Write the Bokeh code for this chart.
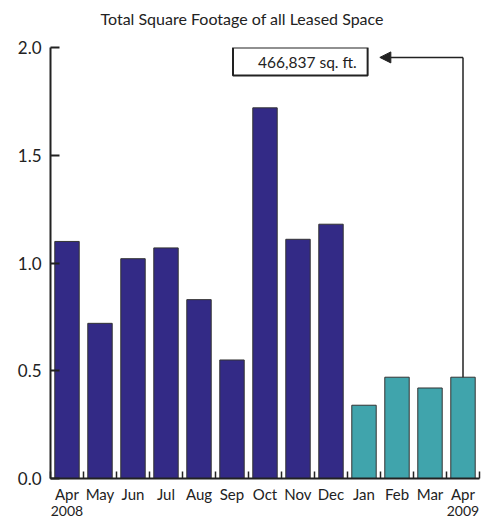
from bokeh.plotting import figure
from bokeh.models import (Range1d, FixedTicker, NumeralTickFormatter, Title,
                          BoxAnnotation, Label, Arrow, NormalHead, LinearAxis)
from bokeh.embed import file_html
from bokeh.resources import INLINE

# ---- data ----
months = ["Apr", "May", "Jun", "Jul", "Aug", "Sep", "Oct", "Nov", "Dec",
          "Jan", "Feb", "Mar", "Apr"]
years = ["2008", "", "", "", "", "", "", "", "", "", "", "", "2009"]
values = [1.10, 0.72, 1.02, 1.07, 0.83, 0.55, 1.72, 1.11, 1.18,
          0.34, 0.47, 0.42, 0.47]
period = ["2008"] * 9 + ["2009"] * 4
y_ticks = [0.0, 0.5, 1.0, 1.5, 2.0]
title_text = "Total Square Footage of all Leased Space"
callout_text = "466,837 sq. ft."

FONT = "Lato"
INK = "#222222"
colors = {"2008": "#332a86", "2009": "#40a4ac"}

n = len(months)
centers = [i + 0.5 for i in range(n)]
bar_colors = [colors[p_] for p_ in period]

p = figure(width=488, height=520, output_backend="svg", toolbar_location=None,
           x_range=Range1d(0, n), y_range=Range1d(0, 2.0),
           min_border_left=50, min_border_right=9, min_border_top=47,
           min_border_bottom=42)
p.title = Title(text=title_text, align="left",
                text_font=FONT, text_font_size="16px", text_font_style="normal",
                text_color=INK, offset=50, standoff=0)
# spacer between title and frame
p.add_layout(Title(text=" ", text_font_size="14px", standoff=2), "above")

p.vbar(x=centers, top=values, width=0.74, fill_color=bar_colors,
       line_color="#333333", line_width=1)

# axes
p.grid.visible = False
p.outline_line_color = None

xa = p.xaxis[0]
xa.ticker = FixedTicker(ticks=centers, minor_ticks=list(range(n + 1)))
xa.major_label_overrides = {c: m for c, m in zip(centers, months)}
xa.major_tick_in = 0
xa.major_tick_out = 0
xa.minor_tick_in = 7
xa.minor_tick_out = 0
xa.minor_tick_line_color = INK
xa.minor_tick_line_width = 1.5
xa.axis_line_color = INK
xa.axis_line_width = 2
xa.major_label_text_font = FONT
xa.major_label_text_font_size = "15px"
xa.major_label_text_color = INK
xa.major_label_standoff = 6

# second row: years under first and last month
year_ticks = [c for c, y in zip(centers, years) if y]
ya2 = LinearAxis(ticker=FixedTicker(ticks=year_ticks, minor_ticks=[]),
                 major_label_overrides={c: y for c, y in zip(centers, years) if y},
                 axis_line_color=None, major_tick_line_color=None,
                 minor_tick_line_color=None, major_tick_in=0, major_tick_out=0,
                 major_label_standoff=0, major_label_text_font=FONT,
                 major_label_text_font_size="14px", major_label_text_color=INK)
p.add_layout(ya2, "below")

ya = p.yaxis[0]
ya.ticker = FixedTicker(ticks=y_ticks, minor_ticks=[])
ya.formatter = NumeralTickFormatter(format="0.0")
ya.major_tick_in = 9
ya.major_tick_out = 0
ya.major_tick_line_color = INK
ya.major_tick_line_width = 2
ya.minor_tick_line_color = None
ya.axis_line_color = INK
ya.axis_line_width = 2
ya.major_label_text_font = FONT
ya.major_label_text_font_size = "17px"
ya.major_label_text_color = INK
ya.major_label_standoff = 9

# callout
y_line = 1.954
p.line([centers[-1], centers[-1]], [values[-1], y_line], line_color=INK,
       line_width=1.5)
p.add_layout(Arrow(end=NormalHead(size=11, fill_color=INK, line_color=INK),
                   x_start=centers[-1], y_start=y_line, x_end=9.98, y_end=y_line,
                   line_color=INK, line_width=1.5))
p.add_layout(BoxAnnotation(left=5.53, right=9.61, bottom=1.87, top=2.0,
                           fill_color="white", fill_alpha=1.0,
                           line_color=INK, line_width=2, line_alpha=1.0))
p.add_layout(Label(x=9.28, y=1.935, text=callout_text, text_align="right",
                   text_baseline="middle", text_font=FONT,
                   text_font_size="15.5px", text_color=INK))

open("out.html", "w").write(file_html(p, INLINE))
